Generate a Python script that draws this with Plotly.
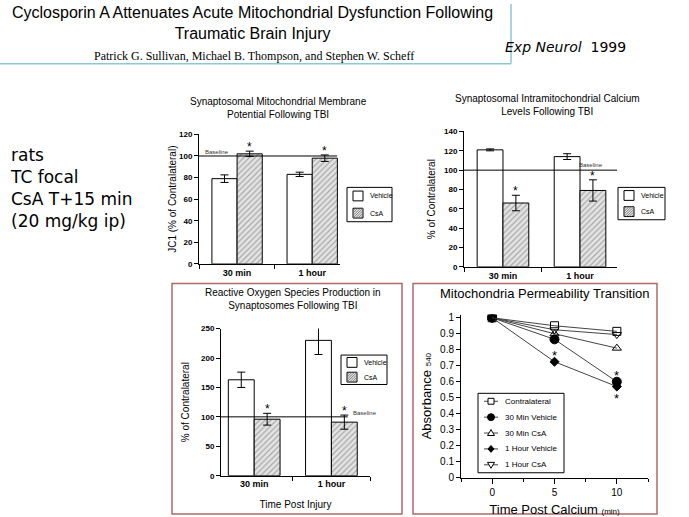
import plotly.graph_objects as go

W, H = 689, 517

# ---------------- data ----------------
CATS = ["30 min", "1 hour"]
SERIES = ["Vehicle", "CsA"]
BASELINE = 100

JC1_VEH = [79, 83]
JC1_VEH_ERR = [3.5, 2]
JC1_CSA = [102, 98]
JC1_CSA_ERR = [2.5, 3]

CA_VEH = [121, 114]
CA_VEH_ERR = [1, 3]
CA_CSA = [66, 79]
CA_CSA_ERR = [8, 11]

ROS_VEH = [163, 230]
ROS_VEH_ERR = [13, 24]
ROS_CSA = [96, 91]
ROS_CSA_ERR = [10, 12]

MPT_TIME = [0, 5, 10]
MPT_NAMES = ["Contralateral", "30 Min Vehicle", "30 Min CsA", "1 Hour Vehicle", "1 Hour CsA"]
MPT_CONTRA = [1.0, 0.95, 0.915]
MPT_VEH30 = [1.0, 0.865, 0.60]
MPT_CSA30 = [1.0, 0.90, 0.81]
MPT_VEH1H = [1.0, 0.725, 0.57]
MPT_CSA1H = [1.0, 0.925, 0.895]
# significance stars: (series index, time index, above?)
MPT_STARS = [(3, 1, True), (1, 2, True), (3, 2, False)]

# ---------------- helpers ----------------
def xd(a, b):
    return [a / W, b / W]

def yd(top, bottom):
    return [1 - bottom / H, 1 - top / H]

def px(x):
    return x / W

def py(y):
    return 1 - y / H

FONT = "Liberation Sans"
BARGAP = 0.33
HATCH_BG = "#e4e4e4"
HATCH_FG = "#6a6a6a"

fig = go.Figure()
annotations = []
shapes = []

csa_marker = dict(color=HATCH_BG, line=dict(color="black", width=1),
                  pattern=dict(shape="/", fgcolor=HATCH_FG, bgcolor=HATCH_BG,
                               size=4, solidity=0.3))
veh_marker = dict(color="white", line=dict(color="black", width=1))


def err(arr):
    return dict(type="data", array=arr, color="black", thickness=1, width=4)


def bar_panel(n, veh, veh_err, csa, csa_err, base_end, base_label):
    xa = "x" if n == 1 else f"x{n}"
    ya = "y" if n == 1 else f"y{n}"
    fig.add_trace(go.Bar(x=CATS, y=veh, name=SERIES[0], marker=veh_marker,
                         error_y=err(veh_err), xaxis=xa, yaxis=ya, showlegend=False))
    fig.add_trace(go.Bar(x=CATS, y=csa, name=SERIES[1], marker=csa_marker,
                         error_y=err(csa_err), xaxis=xa, yaxis=ya, showlegend=False))
    for i, (v, e) in enumerate(zip(csa, csa_err)):
        annotations.append(dict(x=i + (1 - BARGAP) / 4, y=v + e, xref=xa, yref=ya,
                                text="*", showarrow=False, yanchor="bottom",
                                yshift=-5, font=dict(size=12, color="black", family=FONT)))
    shapes.append(dict(type="line", xref=f"{xa} domain", x0=0, x1=base_end,
                       yref=ya, y0=BASELINE, y1=BASELINE,
                       line=dict(color="black", width=1)))
    bl = dict(text="Baseline", showarrow=False, xref=f"{xa} domain", yref=ya,
              y=BASELINE, font=dict(size=6, family=FONT, color="#333"))
    bl.update(base_label)
    annotations.append(bl)


bar_panel(1, JC1_VEH, JC1_VEH_ERR, JC1_CSA, JC1_CSA_ERR, 0.98,
          dict(x=0.03, xanchor="left", yanchor="bottom", yshift=-1))
bar_panel(2, CA_VEH, CA_VEH_ERR, CA_CSA, CA_CSA_ERR, 1.0,
          dict(x=0.83, xanchor="center", yanchor="bottom", yshift=0))
bar_panel(3, ROS_VEH, ROS_VEH_ERR, ROS_CSA, ROS_CSA_ERR, 0.85,
          dict(x=0.87, xanchor="left", yanchor="middle", yshift=4))

# ---------------- MPT line panel ----------------
mpt_series = [MPT_CONTRA, MPT_VEH30, MPT_CSA30, MPT_VEH1H, MPT_CSA1H]
mpt_symbols = ["square-open", "circle", "triangle-up-open", "diamond", "triangle-down-open"]
mpt_sizes = [8, 9, 8, 7, 8]
for name, ys, sym, sz in zip(MPT_NAMES, mpt_series, mpt_symbols, mpt_sizes):
    fig.add_trace(go.Scatter(x=MPT_TIME, y=ys, name=name, mode="lines+markers",
                             line=dict(color="#444", width=1),
                             marker=dict(symbol=sym, size=sz, color="black",
                                         line=dict(color="black", width=1)),
                             xaxis="x4", yaxis="y4", showlegend=False))
for si, ti, above in MPT_STARS:
    annotations.append(dict(x=MPT_TIME[ti], y=mpt_series[si][ti], xref="x4", yref="y4",
                            text="*", showarrow=False,
                            yanchor="bottom" if above else "top",
                            yshift=-3 if above else -2,
                            font=dict(size=13, color="black", family=FONT)))

# ---------------- axes ----------------
bar_x = dict(type="category", showline=True, linecolor="black", linewidth=1,
             ticks="outside", tickson="boundaries", ticklen=4, tickcolor="black",
             showgrid=False, zeroline=False,
             tickfont=dict(family=FONT, size=9, color="black", weight="bold"))
bar_y = dict(showline=True, linecolor="black", linewidth=1, ticks="outside",
             ticklen=4, tickcolor="black", showgrid=False, zeroline=False,
             tickfont=dict(family=FONT, size=8, color="black", weight="bold"))

layout_axes = dict(
    xaxis=dict(bar_x, domain=xd(199, 340), range=[-0.507, 1.37], anchor="y"),
    yaxis=dict(bar_y, domain=yd(133, 265), range=[0, 120], dtick=20, anchor="x",
               title=dict(text="JC1 (% of Contralateral)", standoff=0,
                          font=dict(family=FONT, size=10, color="black"))),
    xaxis2=dict(bar_x, domain=xd(464, 617), range=[-0.506, 1.48], anchor="y2"),
    yaxis2=dict(bar_y, domain=yd(130, 268), range=[0, 140], dtick=20, anchor="x2",
                title=dict(text="% of Contralateral", standoff=6,
                           font=dict(family=FONT, size=10, color="black"))),
    xaxis3=dict(bar_x, domain=xd(221, 370), range=[-0.43, 1.5], anchor="y3",
                title=dict(text="Time Post Injury", standoff=12,
                           font=dict(family=FONT, size=10, color="black"))),
    yaxis3=dict(bar_y, domain=yd(331, 481), range=[0, 250], dtick=50, anchor="x3",
                title=dict(text="% of Contralateral", standoff=9,
                           font=dict(family=FONT, size=10, color="black"))),
    xaxis4=dict(domain=xd(461, 648), range=[-2.5, 12.5], anchor="y4",
                tickvals=MPT_TIME, showline=True, linecolor="black", ticks="outside",
                ticklen=5, tickcolor="black", showgrid=False, zeroline=False,
                minor=dict(ticks="outside", dtick=2.5, tick0=0, ticklen=3, tickcolor="black"),
                tickfont=dict(family=FONT, size=10, color="black"),
                title=dict(text="Time Post Calcium <span style='font-size:8px'>(min)</span>",
                           standoff=8, font=dict(family=FONT, size=13, color="black"))),
    yaxis4=dict(domain=yd(316.7, 483), range=[0, 1.02], dtick=0.1, anchor="x4",
                showline=True, linecolor="black", ticks="outside", ticklen=4,
                tickcolor="black", showgrid=False, zeroline=False,
                tickfont=dict(family=FONT, size=10, color="black"),
                title=dict(text="Absorbance <span style='font-size:8px'>540</span>",
                           standoff=5, font=dict(family=FONT, size=13, color="black"))),
)

# ---------------- decorations ----------------
def ann(text, x, y, size, family=FONT, **kw):
    d = dict(text=text, x=px(x), y=py(y), xref="paper", yref="paper",
             showarrow=False, font=dict(size=size, family=family, color="black"))
    d.update(kw)
    annotations.append(d)

def pline(x0, y0, x1, y1, color, width, layer="above"):
    shapes.append(dict(type="line", xref="paper", yref="paper", layer=layer,
                       x0=px(x0), x1=px(x1), y0=py(y0), y1=py(y1),
                       line=dict(color=color, width=width)))

def prect(x0, y0, x1, y1, color, width, fill=None, layer="above"):
    d = dict(type="rect", xref="paper", yref="paper", layer=layer,
             x0=px(x0), x1=px(x1), y0=py(y0), y1=py(y1),
             line=dict(color=color, width=width))
    if fill:
        d["fillcolor"] = fill
    shapes.append(d)

def ppath(points, color, width, fill=None, closed=True):
    s = "M " + " L ".join(f"{px(a):.5f},{py(b):.5f}" for a, b in points)
    if closed:
        s += " Z"
    d = dict(type="path", path=s, xref="paper", yref="paper", layer="above",
             line=dict(color=color, width=width))
    if fill:
        d["fillcolor"] = fill
    shapes.append(d)

def hatch(x0, y0, s, step=2.5):
    segs = []
    t = step
    while t < 2 * s:
        a = max(0, t - s)
        b = min(s, t)
        segs.append(f"M {px(x0 + a):.5f},{py(y0 + t - a):.5f} L {px(x0 + b):.5f},{py(y0 + t - b):.5f}")
        t += step
    shapes.append(dict(type="path", path=" ".join(segs), xref="paper", yref="paper",
                       layer="above", line=dict(color=HATCH_FG, width=0.8)))


def bar_legend(x0, y0, x1, y1):
    prect(x0, y0, x1, y1, "black", 1, fill="white")
    n = len(SERIES)
    for i, name in enumerate(SERIES):
        cy = y0 + (y1 - y0) * (2 * i + 1) / (2 * n)
        sx, sy, s = x0 + 6, cy - 5, 10
        if i == 0:
            prect(sx, sy, sx + s, sy + s, "black", 1, fill="white")
        else:
            prect(sx, sy, sx + s, sy + s, "black", 1, fill=HATCH_BG)
            hatch(sx, sy, s)
        ann(name, x0 + 21, cy, 7, xanchor="left", yanchor="middle")


bar_legend(347, 187, 392, 222)
bar_legend(618, 187, 665, 220)
bar_legend(341, 358, 387, 388)


def mpt_legend(x0, y0, x1, y1):
    prect(x0, y0, x1, y1, "black", 1, fill="white")
    n = len(MPT_NAMES)
    for i, name in enumerate(MPT_NAMES):
        cy = y0 + (y1 - y0) * (2 * i + 1) / (2 * n)
        cx = x0 + 13
        pline(x0 + 6, cy, x0 + 20, cy, "#444", 1)
        sym = mpt_symbols[i]
        if sym == "square-open":
            prect(cx - 3, cy - 3, cx + 3, cy + 3, "black", 1, fill="white")
        elif sym == "circle":
            shapes.append(dict(type="circle", xref="paper", yref="paper", layer="above",
                               x0=px(cx - 3.5), x1=px(cx + 3.5), y0=py(cy - 3.5), y1=py(cy + 3.5),
                               fillcolor="black", line=dict(color="black", width=1)))
        elif sym == "triangle-up-open":
            ppath([(cx, cy - 3.5), (cx + 3.5, cy + 2.5), (cx - 3.5, cy + 2.5)], "black", 1, fill="white")
        elif sym == "diamond":
            ppath([(cx, cy - 3.5), (cx + 3, cy), (cx, cy + 3.5), (cx - 3, cy)], "black", 1, fill="black")
        else:
            ppath([(cx, cy + 3.5), (cx + 3.5, cy - 2.5), (cx - 3.5, cy - 2.5)], "black", 1, fill="white")
        ann(name, x0 + 25, cy, 8, xanchor="left", yanchor="middle")


mpt_legend(478, 397, 564, 478)

ann("Cyclosporin A Attenuates Acute Mitochondrial Dysfunction Following<br>Traumatic Brain Injury",
    252, 19, 16, xanchor="center", yanchor="middle")
ann("Patrick G. Sullivan, Michael B. Thompson, and Stephen W. Scheff",
    254, 53, 12, family="Liberation Serif", xanchor="center", yanchor="middle")
ann("<i>Exp Neurol</i>  1999", 503, 44, 14, family="DejaVu Sans",
    xanchor="left", yanchor="middle")
ann("rats<br>TC focal<br>CsA T+15 min<br>(20 mg/kg ip)", 8, 188, 17,
    family="DejaVu Sans", xanchor="left", yanchor="middle", align="left")

ann("Synaptosomal Mitochondrial Membrane<br>Potential Following TBI", 278, 106, 10,
    xanchor="center", yanchor="middle")
ann("Synaptosomal Intramitochondrial Calcium<br>Levels Following TBI", 547, 103, 10,
    xanchor="center", yanchor="middle")
ann("Reactive Oxygen Species Production in<br>Synaptosomes Following TBI", 293, 301, 10,
    xanchor="center", yanchor="middle")
ann("Mitochondria Permeability Transition", 545, 295, 13,
    xanchor="center", yanchor="middle")

pline(0, 61, 511, 61, "#8fc6d2", 1.5, layer="below")
pline(511, 0, 511, 61, "#8fc6d2", 1.5, layer="below")
prect(172, 285, 402, 520, "#b06a6a", 1.5, layer="below")
prect(413, 285, 657, 520, "#b06a6a", 1.5, layer="below")

fig.update_layout(
    width=W, height=H, margin=dict(l=0, r=0, t=0, b=0),
    paper_bgcolor="white", plot_bgcolor="white",
    barmode="group", bargap=BARGAP, bargroupgap=0,
    annotations=annotations, shapes=shapes,
    font=dict(family=FONT, color="black"),
    showlegend=False,
    **layout_axes,
)

fig.write_html("out.html", config={"displayModeBar": False},
               post_script="document.body.style.margin='0';document.body.style.overflow='hidden';")
